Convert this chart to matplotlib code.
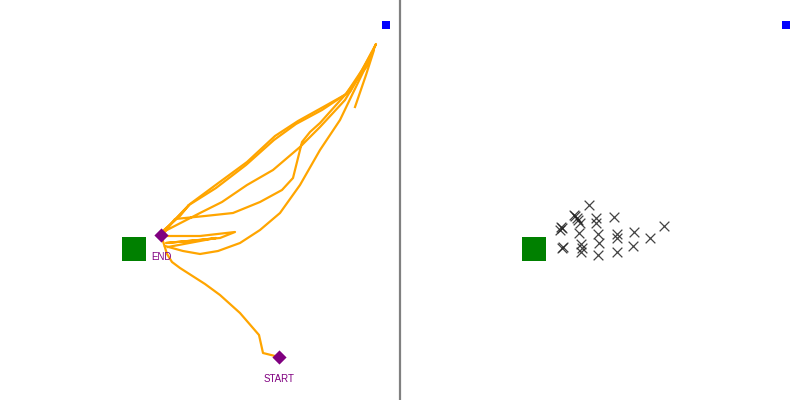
import matplotlib
matplotlib.use("Agg")
import matplotlib.pyplot as plt

# Trajectory segments (pixel-space coordinates, y downward)
traj_start_x = [279, 263, 259, 240, 220, 205, 180, 172, 167, 162]
traj_start_y = [357, 353, 335, 313, 295, 284, 268, 262, 254, 238]

traj_a_x = [162, 167, 190, 217, 247, 275, 298, 325, 350, 362, 376,
            370, 352, 340, 320, 300, 280, 260, 240, 218, 200, 183, 165]
traj_a_y = [236, 228, 204, 184, 162, 136, 121, 106, 92, 70, 44,
            58, 95, 120, 150, 185, 213, 230, 243, 251, 254, 251, 246]

traj_b_x = [165, 200, 222, 247, 273, 300, 320, 345, 360, 372,
            368, 345, 320, 310, 302, 293, 282, 260, 233, 205, 175, 163]
traj_b_y = [231, 213, 202, 185, 170, 147, 127, 100, 75, 52,
            65, 95, 123, 132, 142, 178, 190, 202, 213, 216, 219, 234]

traj_c_x = [355, 366, 374, 362, 346, 322, 296, 274, 246, 216, 189]
traj_c_y = [107, 75, 50, 70, 94, 110, 124, 140, 165, 188, 205]

traj_d_x = [163, 200, 235, 220, 166, 200, 216, 168]
traj_d_y = [236, 236, 232, 238, 243, 240, 238, 247]

traj_e_x = [163, 189, 180, 164]
traj_e_y = [232, 205, 216, 230]

trajectories = [(traj_start_x, traj_start_y), (traj_a_x, traj_a_y),
                (traj_b_x, traj_b_y), (traj_c_x, traj_c_y),
                (traj_d_x, traj_d_y), (traj_e_x, traj_e_y)]

# Endpoint scatter (right panel)
end_x = [589, 575, 578, 580, 577, 596, 596, 614, 561, 560, 562, 579, 598,
         617, 617, 634, 664, 650, 562, 563, 581, 582, 581, 599, 633, 617, 598, 574]
end_y = [205, 216, 220, 223, 218, 218, 223, 217, 227, 230, 228, 233, 234,
         234, 238, 232, 226, 238, 248, 247, 244, 248, 252, 243, 246, 252, 255, 215]

target_x = [134, 534]
target_y = [249, 249]
corner_x = [386, 786]
corner_y = [25, 25]
marker_x = [161, 279]
marker_y = [235, 357]
marker_labels = ["END", "START"]

fig = plt.figure(figsize=(8, 4), dpi=100)
ax = fig.add_axes([0, 0, 1, 1])
ax.set_xlim(0, 800)
ax.set_ylim(400, 0)
ax.axis("off")

ax.axvline(400, color="#808080", lw=1.6)

for tx, ty in trajectories:
    ax.plot(tx, ty, color="orange", lw=1.6, solid_joinstyle="round", zorder=2)

ax.scatter(target_x, target_y, marker="s", s=24**2 * 0.52, color="green", zorder=3,
           linewidths=0)
ax.scatter(corner_x, corner_y, marker="s", s=7.5**2 * 0.52, color="blue", zorder=3,
           linewidths=0)
ax.scatter(marker_x, marker_y, marker="D", s=10**2 * 0.52, color="purple", zorder=4,
           linewidths=0)
for mx, my, lab in zip(marker_x, marker_y, marker_labels):
    ax.text(mx, my + 22, lab, color="purple", fontsize=7, ha="center", va="center",
            family=["Liberation Sans", "DejaVu Sans"])

ax.scatter(end_x, end_y, marker="x", s=7**2, color="#222222", linewidths=0.9,
           alpha=0.85, zorder=3)

fig.savefig("out.png", dpi=100)
